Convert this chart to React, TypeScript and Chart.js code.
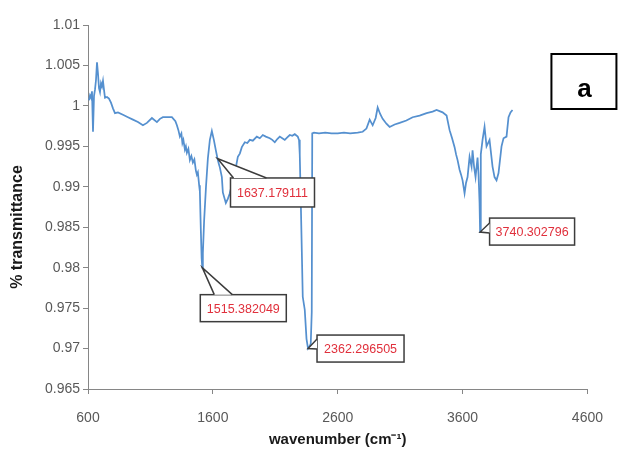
import React, { useEffect, useRef } from "react";
import { Chart, registerables } from "chart.js";

Chart.register(...registerables);

const wavenumber: number[] = [
  608, 616, 624, 632, 640, 648, 656, 664, 672, 680,
  688, 696, 704, 712, 720, 728, 736, 752, 768, 784,
  800, 816, 840, 880, 920, 960, 1000, 1040, 1072, 1112,
  1152, 1176, 1200, 1240, 1272, 1300, 1312, 1324, 1336, 1348,
  1356, 1364, 1376, 1384, 1392, 1404, 1416, 1428, 1440, 1452,
  1464, 1472, 1480, 1490, 1496, 1504, 1510, 1515.382049, 1520, 1530,
  1545, 1560, 1576, 1592, 1608, 1624, 1637.179111, 1648, 1656, 1672,
  1680, 1704, 1720, 1736, 1756, 1776, 1800, 1816, 1832, 1856,
  1876, 1896, 1920, 1952, 1976, 2000, 2024, 2056, 2076, 2096,
  2116, 2136, 2156, 2176, 2196, 2216, 2236, 2256, 2280, 2290,
  2296, 2304, 2320, 2336, 2350, 2362.296505, 2376, 2384, 2392, 2396,
  2410, 2450, 2500, 2550, 2600, 2650, 2700, 2760, 2800, 2830,
  2856, 2880, 2904, 2920, 2940, 2960, 2990, 3016, 3056, 3096,
  3150, 3200, 3256, 3312, 3360, 3392, 3440, 3472, 3496, 3516,
  3536, 3548, 3560, 3576, 3588, 3600, 3616, 3628, 3640, 3656,
  3672, 3680, 3692, 3704, 3720, 3728, 3736, 3740.302796, 3746, 3760,
  3776, 3792, 3816, 3840, 3856, 3872, 3888, 3912, 3928, 3952,
  3968, 3984, 4000,
];

const transmittance: number[] = [
  1.0007, 1.0013, 1.001, 1.0018, 0.9968, 1.0012, 1.002, 1.0032, 1.0054, 1.004,
  1.0022, 1.0017, 1.0028, 1.0024, 1.0031, 1.002, 1.001, 1.0011, 1.0009, 1.0004,
  0.9997, 0.9991, 0.9992, 0.9989, 0.9986, 0.9983, 0.998, 0.9976, 0.9979, 0.9985,
  0.998, 0.9984, 0.9986, 0.9986, 0.9986, 0.9981, 0.9976, 0.997, 0.9962, 0.9966,
  0.9954, 0.9958, 0.9946, 0.995, 0.9942, 0.9947, 0.9933, 0.9938, 0.993, 0.9934,
  0.992, 0.9915, 0.9918, 0.9902, 0.9894, 0.9845, 0.9812, 0.98, 0.9818, 0.9858,
  0.99, 0.9935, 0.9958, 0.9969, 0.9958, 0.9945, 0.9935, 0.9928, 0.9924, 0.9912,
  0.9893, 0.988, 0.9885, 0.9892, 0.9905, 0.9917, 0.9937, 0.9941, 0.9949, 0.9955,
  0.9954, 0.9958, 0.9957, 0.9962, 0.996, 0.9964, 0.9962, 0.996, 0.9958, 0.9955,
  0.9959, 0.9962, 0.996, 0.9958, 0.9961, 0.9964, 0.9963, 0.9965, 0.9962, 0.9958,
  0.994, 0.9884, 0.9764, 0.9748, 0.9712, 0.97, 0.9703, 0.9706, 0.9745, 0.9966,
  0.9967, 0.9966, 0.9967, 0.9966, 0.9966, 0.9967, 0.9966, 0.9967, 0.9968, 0.9972,
  0.9983, 0.9976, 0.9985, 0.9998, 0.999, 0.9984, 0.9978, 0.9974, 0.9977, 0.9979,
  0.9982, 0.9986, 0.9988, 0.9991, 0.9993, 0.9995, 0.9992, 0.9988, 0.997, 0.996,
  0.9949, 0.994, 0.9933, 0.9921, 0.9915, 0.9908, 0.9892, 0.9905, 0.9912, 0.9937,
  0.9925, 0.9945, 0.9925, 0.9912, 0.9936, 0.9915, 0.988, 0.9844, 0.994, 0.9958,
  0.9974, 0.995, 0.9958, 0.9925, 0.9912, 0.9908, 0.9917, 0.995, 0.996, 0.9962,
  0.9986, 0.9992, 0.9995,
];

const xTicks: number[] = [600, 1600, 2600, 3600, 4600];
const yTicks: number[] = [0.965, 0.97, 0.975, 0.98, 0.985, 0.99, 0.995, 1, 1.005, 1.01];
const yTickLabels: string[] = ["0.965", "0.97", "0.975", "0.98", "0.985", "0.99", "0.995", "1", "1.005", "1.01"];

const peakLabels: string[] = ["1515.382049", "1637.179111", "2362.296505", "3740.302796"];
const peakX: number[] = [1515.382049, 1637.179111, 2362.296505, 3740.302796];
const peakY: number[] = [0.98, 0.9935, 0.97, 0.9844];

const xTitle = "wavenumber (cm\u207B\u00B9)";
const yTitle = "% transmittance";
const panelLabel = "a";

// callout layout: box offset from tip, size, wedge side & base span
const calloutLayout = [
  { dx: -2, dy: 27, w: 86, h: 27, side: "top", b1: 14, b2: 32 },
  { dx: 13, dy: 19.5, w: 84, h: 29, side: "top", b1: 3, b2: 36 },
  { dx: 9, dy: -13.5, w: 87, h: 27, side: "left", b1: 4, b2: 14 },
  { dx: 9.5, dy: -14, w: 85, h: 27, side: "left", b1: 5, b2: 15 },
];

const decorPlugin = {
  id: "decor",
  afterDatasetsDraw(chart: any) {
    const { ctx, chartArea, scales } = chart;
    const xs = scales.x;
    const ys = scales.y;
    ctx.save();
    peakLabels.forEach((label, i) => {
      const L = calloutLayout[i];
      const tx = xs.getPixelForValue(peakX[i]);
      const ty = ys.getPixelForValue(peakY[i]);
      const bx = tx + L.dx;
      const by = ty + L.dy;
      ctx.lineWidth = 1.5;
      ctx.strokeStyle = "#3c3c3c";
      ctx.fillStyle = "#ffffff";
      ctx.fillRect(bx, by, L.w, L.h);
      ctx.strokeRect(bx, by, L.w, L.h);
      let p1: [number, number], p2: [number, number];
      if (L.side === "top") {
        p1 = [bx + L.b1, by];
        p2 = [bx + L.b2, by];
      } else {
        p1 = [bx, by + L.b1];
        p2 = [bx, by + L.b2];
      }
      ctx.beginPath();
      ctx.moveTo(p1[0], p1[1]);
      ctx.lineTo(tx, ty);
      ctx.lineTo(p2[0], p2[1]);
      ctx.closePath();
      ctx.fill();
      ctx.beginPath();
      ctx.moveTo(p1[0], p1[1]);
      ctx.lineTo(tx, ty);
      ctx.lineTo(p2[0], p2[1]);
      ctx.stroke();
      ctx.fillStyle = "#e0303c";
      ctx.font = "12.5px 'Liberation Sans', Arial, sans-serif";
      ctx.textAlign = "center";
      ctx.textBaseline = "middle";
      ctx.fillText(label, bx + L.w / 2, by + L.h / 2 + 1);
    });
    const px = chartArea.right - 36;
    const py = 54;
    ctx.lineWidth = 2;
    ctx.strokeStyle = "#000";
    ctx.fillStyle = "#fff";
    ctx.fillRect(px, py, 65, 55);
    ctx.strokeRect(px, py, 65, 55);
    ctx.fillStyle = "#000";
    ctx.font = "bold 26px 'Liberation Sans', Arial, sans-serif";
    ctx.textAlign = "center";
    ctx.textBaseline = "alphabetic";
    ctx.fillText(panelLabel, px + 33, py + 43);
    ctx.fillStyle = "#1a1a1a";
    ctx.font = "bold 15px 'Liberation Sans', Arial, sans-serif";
    ctx.textAlign = "center";
    ctx.textBaseline = "middle";
    ctx.fillText(xTitle, (chartArea.left + chartArea.right) / 2, 440);
    ctx.save();
    ctx.translate(18, 227);
    ctx.rotate(-Math.PI / 2);
    ctx.font = "bold 16px 'Liberation Sans', Arial, sans-serif";
    ctx.fillText(yTitle, 0, 0);
    ctx.restore();
    ctx.restore();
  },
};

export default function App() {
  const ref = useRef<HTMLCanvasElement | null>(null);
  useEffect(() => {
    if (!ref.current) return;
    const points = wavenumber.map((x, i) => ({ x, y: transmittance[i] }));
    const chart = new Chart(ref.current, {
      type: "line",
      data: {
        datasets: [
          {
            data: points,
            borderColor: "#5590cf",
            borderWidth: 1.75,
            pointRadius: 0,
            tension: 0,
            fill: false,
          },
        ],
      },
      options: {
        responsive: false,
        animation: false,
        events: [],
        layout: { padding: { left: 0, top: 25, right: 31, bottom: 0 } },
        plugins: { legend: { display: false }, tooltip: { enabled: false } },
        scales: {
          x: {
            type: "linear",
            min: 600,
            max: 4600,
            afterFit: (s: any) => {
              s.height = 61;
            },
            afterBuildTicks: (s: any) => {
              s.ticks = xTicks.map((v) => ({ value: v }));
            },
            grid: { drawOnChartArea: false, drawTicks: true, tickLength: 5, color: "#868686" },
            border: { display: true, color: "#868686", width: 1 },
            ticks: {
              color: "#595959",
              font: { family: "'Liberation Sans', Arial, sans-serif", size: 14 },
              padding: 16,
              maxRotation: 0,
              callback: (v: any) => String(v),
            },
          },
          y: {
            type: "linear",
            min: 0.965,
            max: 1.01,
            afterFit: (s: any) => {
              s.width = 88;
            },
            afterBuildTicks: (s: any) => {
              s.ticks = yTicks.map((v) => ({ value: v }));
            },
            grid: { drawOnChartArea: false, drawTicks: true, tickLength: 5, color: "#868686" },
            border: { display: true, color: "#868686", width: 1 },
            ticks: {
              color: "#595959",
              font: { family: "'Liberation Sans', Arial, sans-serif", size: 14 },
              padding: 3,
              callback: (v: any) => {
                const idx = yTicks.findIndex((t) => Math.abs(t - Number(v)) < 1e-9);
                return idx >= 0 ? yTickLabels[idx] : "";
              },
            },
          },
        },
      },
      plugins: [decorPlugin],
    });
    return () => chart.destroy();
  }, []);
  return (
    <div style={{ position: "absolute", left: 0, top: 0, width: 619, height: 450, background: "#fff" }}>
      <canvas ref={ref} width={619} height={450} />
    </div>
  );
}
